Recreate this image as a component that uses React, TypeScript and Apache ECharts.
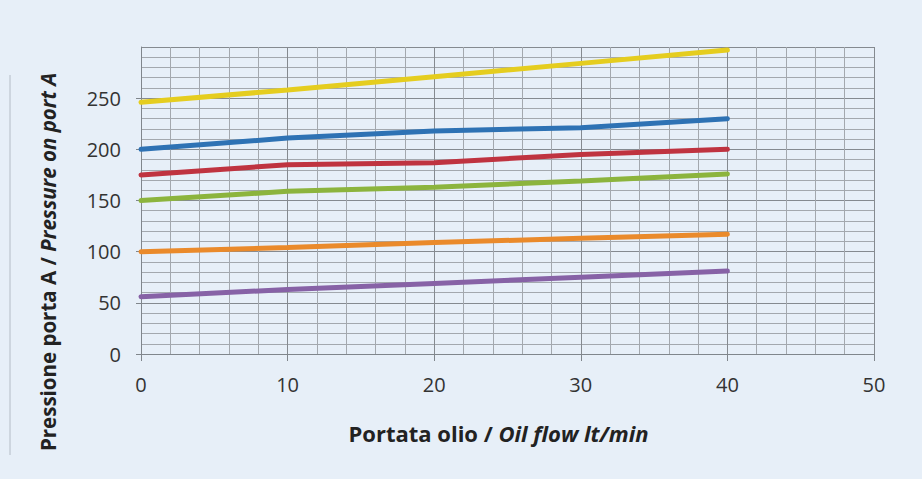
import React, { useEffect, useRef } from "react";
import * as echarts from "echarts";

const flow = [0, 10, 20, 30, 40];
const yellowVals = [246, 258, 271, 284, 297];
const blueVals = [200, 211, 218, 221, 230];
const redVals = [175, 185, 187, 195, 200];
const greenVals = [150, 159, 163, 169, 176];
const orangeVals = [100, 104, 109, 113, 117];
const purpleVals = [56, 63, 69, 75, 81];

const seriesDefs = [
  { name: "yellow", values: yellowVals, color: "#e5cd1f" },
  { name: "blue", values: blueVals, color: "#2e72b4" },
  { name: "red", values: redVals, color: "#bf3340" },
  { name: "green", values: greenVals, color: "#8cb43d" },
  { name: "orange", values: orangeVals, color: "#ea8a2b" },
  { name: "purple", values: purpleVals, color: "#8762a6" },
];

export default function App() {
  const ref = useRef<HTMLDivElement>(null);
  useEffect(() => {
    document.body.style.margin = "0";
    const chart = echarts.init(ref.current!, null, { renderer: "svg" });
    const font = "'Open Sans', 'Noto Sans', sans-serif";
    chart.setOption({
      animation: false,
      backgroundColor: "#e7eff8",
      grid: { left: 141, right: 48, top: 47, bottom: 125 },
      xAxis: {
        type: "value",
        min: 0,
        max: 50,
        interval: 10,
        axisLine: { show: true, lineStyle: { color: "#80868c", width: 1 } },
        axisTick: { show: true, length: 7, lineStyle: { color: "#80868c" } },
        axisLabel: { fontFamily: font, fontSize: 20, color: "#333", margin: 20 },
        splitLine: { show: true, lineStyle: { color: "#858a90", width: 1 } },
        minorTick: { show: false, splitNumber: 5 },
        minorSplitLine: { show: true, lineStyle: { color: "#a3a8ae", width: 1 } },
        name: "{b|Portata olio / }{bi|Oil flow lt/min}",
        nameLocation: "middle",
        nameGap: 68,
        nameTextStyle: {
          padding: [0, 18, 0, 0],
          rich: {
            b: { fontFamily: font, fontSize: 22, fontWeight: "bold", color: "#222" },
            bi: { fontFamily: font, fontSize: 22, fontWeight: "bold", fontStyle: "italic", color: "#222" },
          },
        },
      },
      yAxis: {
        type: "value",
        min: 0,
        max: 300,
        interval: 50,
        axisLine: { show: true, lineStyle: { color: "#80868c", width: 1 } },
        axisTick: { show: true, length: 5, lineStyle: { color: "#80868c" } },
        axisLabel: { fontFamily: font, fontSize: 20, color: "#333", margin: 20, showMaxLabel: false },
        splitLine: { show: true, lineStyle: { color: "#858a90", width: 1 } },
        minorTick: { show: false, splitNumber: 5 },
        minorSplitLine: { show: true, lineStyle: { color: "#a3a8ae", width: 1 } },
      },
      graphic: [
        {
          type: "line",
          shape: { x1: 10, y1: 75, x2: 10, y2: 455 },
          style: { stroke: "#b4bcc6", lineWidth: 1 },
        },
        {
          type: "text",
          x: 48,
          y: 262,
          rotation: Math.PI / 2,
          style: {
            text: "{b|Pressione porta A / }{bi|Pressure on port A}",
            align: "center",
            verticalAlign: "middle",
            rich: {
              b: { fontFamily: font, fontSize: 20.5, fontWeight: "bold", fill: "#222" },
              bi: { fontFamily: font, fontSize: 20.5, fontWeight: "bold", fontStyle: "italic", fill: "#222" },
            },
          },
        },
      ],
      series: seriesDefs.map((s) => ({
        name: s.name,
        type: "line",
        data: flow.map((x, i) => [x, s.values[i]]),
        showSymbol: false,
        symbol: "none",
        lineStyle: { color: s.color, width: 5, cap: "round" },
        itemStyle: { color: s.color },
      })),
    });
    return () => chart.dispose();
  }, []);
  return <div ref={ref} style={{ width: 922, height: 479 }} />;
}
